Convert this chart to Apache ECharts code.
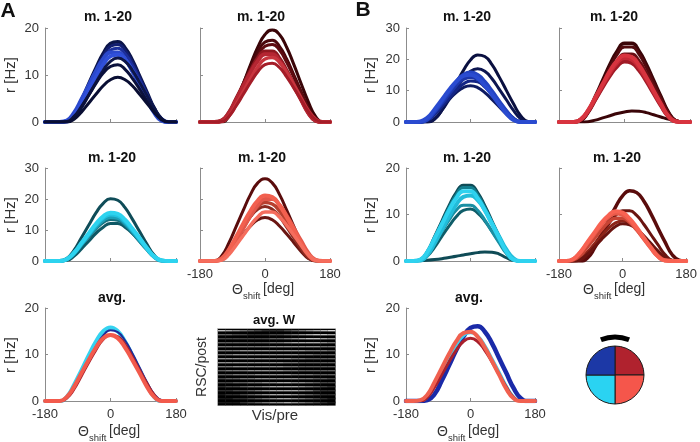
<!DOCTYPE html>
<html><head><meta charset="utf-8">
<script src="https://cdn.jsdelivr.net/npm/echarts@6/dist/echarts.min.js"></script>
<style>html,body{margin:0;padding:0;background:#fff}#c{width:700px;height:442px}</style>
</head><body><div id="c"></div>
<script>
// ---------------- DATA ----------------
const theta = [-180,-160,-140,-120,-100,-80,-60,-40,-20,0,20,40,60,80,100,120,140,160,180];
const xTicks = [-180, 0, 180];

// Panel A, top-left (blue), r [Hz]
const A1 = [
[0,0,0,0.2,1.6,4.6,8.1,11.5,14.6,16.7,17.1,15.8,13.2,9.8,6.4,3.0,0.7,0,0],
[0,0,0,0.2,1.6,4.5,7.8,11.1,14.1,16.1,16.5,15.3,12.7,9.5,6.1,2.9,0.7,0,0],
[0,0,0,0.2,1.5,4.3,7.4,10.6,13.4,15.3,15.7,14.5,12.1,9.0,5.8,2.8,0.6,0,0],
[0,0,0,0.3,2.0,4.8,7.8,10.8,13.4,14.8,14.8,13.4,10.8,7.8,4.8,2.0,0.3,0,0],
[0,0,0,0.1,1.4,3.9,6.8,9.6,12.2,14.0,14.3,13.2,11.0,8.2,5.3,2.5,0.6,0,0],
[0,0,0,0,0.8,3.0,5.7,8.4,11.0,12.9,13.6,12.9,11.0,8.4,5.7,3.0,0.8,0,0],
[0,0,0,0.1,1.2,3.3,5.7,8.2,10.4,11.8,12.2,11.2,9.3,7.0,4.5,2.1,0.5,0,0],
[0,0,0,0,0.6,2.1,4.0,5.9,7.7,9.0,9.5,9.0,7.7,5.9,4.0,2.1,0.6,0,0]
];
// Panel A, top-right (red)
const A2 = [
[0,0,0,0,1.2,4.3,8.2,12.2,15.9,18.6,19.6,18.6,15.9,12.2,8.2,4.3,1.2,0,0],
[0,0,0,0.2,1.7,4.7,8.2,11.7,14.9,17.0,17.4,16.1,13.4,10.0,6.5,3.1,0.7,0,0],
[0,0,0,0.2,1.6,4.5,7.8,11.1,14.1,16.1,16.5,15.3,12.7,9.5,6.1,2.9,0.7,0,0],
[0,0,0,0.3,2.0,4.9,7.9,10.9,13.5,15.0,15.0,13.5,10.9,7.9,4.9,2.0,0.3,0,0],
[0,0,0,0.3,1.9,4.7,7.6,10.5,13.0,14.4,14.4,13.0,10.5,7.6,4.7,1.9,0.3,0,0],
[0,0,0,0.1,1.3,3.7,6.5,9.2,11.7,13.4,13.7,12.7,10.6,7.9,5.1,2.4,0.6,0,0],
[0,0,0,0.1,1.2,3.4,5.9,8.4,10.7,12.2,12.5,11.6,9.6,7.2,4.7,2.2,0.5,0,0]
];
// Panel A, middle-left (cyan)
const A3 = [
[0,0,0,0.8,3.5,7.5,11.5,15.5,18.6,20.1,19.6,17.2,13.5,9.5,5.5,1.9,0.2,0,0],
[0,0,0,0.2,1.6,3.9,6.4,8.9,10.9,12.1,12.1,10.9,8.9,6.4,3.9,1.6,0.2,0,0],
[0,0,0,0.5,2.4,5.0,7.7,10.3,12.4,13.4,13.1,11.5,9.0,6.3,3.6,1.3,0.1,0,0],
[0,0,0,0.6,2.5,5.3,8.2,10.9,13.2,14.2,13.9,12.2,9.6,6.7,3.9,1.4,0.1,0,0],
[0,0,0,0.6,2.6,5.6,8.6,11.6,13.9,15.0,14.6,12.8,10.1,7.1,4.1,1.4,0.2,0,0],
[0,0,0,0.6,2.7,5.8,8.9,12.0,14.4,15.6,15.2,13.3,10.5,7.4,4.2,1.5,0.2,0,0]
];
// Panel A, middle-right (coral)
const A4 = [
[0,0,0,1.6,5.8,11.1,16.4,21.5,25.2,26.5,25.2,21.5,16.4,11.1,5.8,1.6,0,0,0],
[0,0,0,0.8,3.1,5.9,8.7,11.3,13.3,14.0,13.3,11.3,8.7,5.9,3.1,0.8,0,0,0],
[0,0,0,1.1,3.9,7.4,10.9,14.3,16.7,17.6,16.7,14.3,10.9,7.4,3.9,1.1,0,0,0],
[0,0,0,0.8,3.3,7.0,10.8,14.5,17.5,18.9,18.4,16.2,12.7,8.9,5.1,1.8,0.2,0,0],
[0,0,0,0.4,2.6,6.5,10.6,14.6,18.1,20.0,20.0,18.1,14.6,10.6,6.5,2.6,0.4,0,0],
[0,0,0,0.8,3.7,7.8,12.1,16.2,19.5,21.1,20.6,18.0,14.2,10.0,5.7,2.0,0.2,0,0],
[0,0,0,0.3,2.1,5.1,8.3,11.5,14.2,15.8,15.8,14.2,11.5,8.3,5.1,2.1,0.3,0,0]
];
// Panel A, average
const A5 = [
[0,0,0,0.9,3.5,6.6,9.8,12.8,15.0,15.8,15.0,12.8,9.8,6.6,3.5,0.9,0,0,0],
[0,0,0,0.6,2.7,5.7,8.7,11.7,14.1,15.2,14.8,13.0,10.3,7.2,4.1,1.5,0.2,0,0],
[0,0,0,0.6,2.5,5.3,8.2,10.9,13.2,14.2,13.9,12.2,9.6,6.7,3.9,1.4,0.1,0,0],
[0,0,0,0.9,3.1,6.0,8.8,11.5,13.5,14.2,13.5,11.5,8.8,6.0,3.1,0.9,0,0,0]
];
// Panel B, top-left (blue)
const B1 = [
[0,0,0,0,0.9,3.8,8.0,12.3,16.4,19.8,21.4,20.9,18.3,14.4,10.1,5.8,2.0,0.2,0],
[0,0,0,0,1.0,3.7,7.1,10.5,13.8,16.2,17.0,16.2,13.8,10.5,7.1,3.7,1.0,0,0],
[0,0,0,0.7,2.6,4.9,7.2,9.4,11.0,11.6,11.0,9.4,7.2,4.9,2.6,0.7,0,0,0],
[0,0,0,0.5,2.3,4.9,7.5,10.1,12.1,13.1,12.8,11.2,8.8,6.2,3.6,1.3,0.1,0,0],
[0,0,0,0.9,3.2,6.0,8.9,11.7,13.7,14.4,13.7,11.7,8.9,6.0,3.2,0.9,0,0,0],
[0,0,0,0.9,3.5,6.6,9.8,12.8,15.0,15.8,15.0,12.8,9.8,6.6,3.5,0.9,0,0,0],
[0,0,0.2,1.4,4.1,7.1,10.2,12.9,14.7,15.1,14.0,11.6,8.7,5.6,2.7,0.6,0,0,0]
];
// Panel B, top-right (red)
const B2 = [
[0,0,0,0.5,3.3,8.2,13.3,18.4,22.7,25.1,25.1,22.7,18.4,13.3,8.2,3.3,0.5,0,0],
[0,0,0,0.5,3.2,7.8,12.6,17.5,21.6,23.9,23.9,21.6,17.5,12.6,7.8,3.2,0.5,0,0],
[0,0,0,0.4,2.9,7.0,11.4,15.8,19.6,21.7,21.7,19.6,15.8,11.4,7.0,2.9,0.4,0,0],
[0,0,0,0,0.1,0.6,1.3,2.0,2.7,3.2,3.5,3.4,3.0,2.3,1.6,0.9,0.3,0,0],
[0,0,0,0.8,3.4,7.2,11.1,14.8,17.8,19.3,18.8,16.5,13.0,9.1,5.2,1.8,0.2,0,0],
[0,0,0,0.8,3.6,7.6,11.7,15.7,18.9,20.4,19.9,17.4,13.7,9.6,5.5,1.9,0.2,0,0],
[0,0,0,0.9,3.7,7.9,12.1,16.3,19.6,21.2,20.7,18.1,14.3,10.0,5.8,2.0,0.2,0,0]
];
// Panel B, middle-left (cyan)
const B3 = [
[0,0,0.3,2.1,5.3,8.6,11.9,14.7,16.3,16.3,14.7,11.9,8.6,5.3,2.1,0.3,0,0,0],
[0,0,0.3,2.1,5.1,8.3,11.5,14.2,15.8,15.8,14.2,11.5,8.3,5.1,2.1,0.3,0,0,0],
[0,0,0.05,0.15,0.3,0.5,0.75,1.0,1.3,1.55,1.8,1.95,1.9,1.5,0.7,0.1,0,0,0],
[0,0,0.1,1.1,3.0,5.3,7.5,9.5,10.9,11.2,10.3,8.6,6.4,4.1,2.0,0.4,0,0,0],
[0,0,0.2,1.6,3.9,6.3,8.8,10.9,12.0,12.0,10.9,8.8,6.3,3.9,1.6,0.2,0,0,0],
[0,0,0.1,1.3,3.8,6.7,9.5,12.1,13.8,14.1,13.1,10.9,8.1,5.3,2.5,0.6,0,0,0],
[0,0,0.3,2.0,4.9,7.9,10.9,13.5,15.0,15.0,13.5,10.9,7.9,4.9,2.0,0.3,0,0,0]
];
// Panel B, middle-right (coral)
const B4 = [
[0,0,0,0,0.6,2.7,5.6,8.7,11.6,14.0,15.1,14.7,12.9,10.2,7.1,4.1,1.4,0.2,0],
[0,0,0,0.2,1.4,3.5,5.7,7.9,9.8,10.8,10.8,9.8,7.9,5.7,3.5,1.4,0.2,0,0],
[0,0,0,0.5,1.9,3.6,5.3,7.0,8.2,8.6,8.2,7.0,5.3,3.6,1.9,0.5,0,0,0],
[0,0,0,0.3,1.4,3.0,4.6,6.1,7.4,8.0,7.8,6.8,5.4,3.8,2.2,0.8,0.1,0,0],
[0,0,0.2,1.2,3.0,4.8,6.7,8.3,9.2,9.2,8.3,6.7,4.8,3.0,1.2,0.2,0,0,0],
[0,0,0.4,1.8,3.8,5.8,7.8,9.4,10.2,9.9,8.7,6.8,4.8,2.8,1.0,0.1,0,0,0],
[0,0,0.4,1.9,4.0,6.1,8.2,9.8,10.7,10.4,9.1,7.2,5.0,2.9,1.0,0.1,0,0,0]
];
// Panel B, average
const B5 = [
[0,0,0,0.2,1.5,4.4,7.6,10.9,13.8,15.7,16.1,14.9,12.4,9.2,6.0,2.8,0.6,0,0],
[0,0,0,0.9,3.2,6.2,9.1,11.9,14.0,14.7,14.0,11.9,9.1,6.2,3.2,0.9,0,0,0],
[0,0,0,0.8,3.0,5.7,8.4,10.9,12.8,13.5,12.8,10.9,8.4,5.7,3.0,0.8,0,0,0],
[0,0,0.2,1.4,4.1,7.1,10.1,12.8,14.6,14.9,13.8,11.5,8.6,5.6,2.6,0.6,0,0,0]
];
// avg. W (rows = RSC/post, columns = Vis/pre), brightness 0-9 of each bright row
const W_rows = [
"8765432223456789","4433222334567887","3333333445678876","4444444556777765",
"5555555666666655","5556666666665554","5566666666655444","6666666666554444",
"6666666665544444","5566666665544444","4555666665544444","4455566666555444",
"3445566666655443","3344556677665433","2334556777765432","2233456777765322",
"1223456777654322","1122345677654321","1112345667654321"
];
const headQuadrants = [1,1,1,1];

// ---------------- STYLE ----------------
const FONT = '"Liberation Sans", Arial, Helvetica, sans-serif';
const AX = '#8c8c8c';
const panels = [
 {vals:A1, ymax:20, left:45,  top:28,  w:131, h:94, xl:false, yl:true,
  colors:['#0b1448','#121e70','#1c2f9c','#2b49cc','#3050da','#0d1648','#0b113c','#090e33'], widths:[3.5,3,3,4,4,3,3,3]},
 {vals:A2, ymax:20, left:200, top:28,  w:130, h:94, xl:false, yl:false,
  colors:['#3a0508','#4a070b','#5e0b10','#8e1820','#b52632','#c8353e','#a41d28'], widths:[3,3,3,4,4,3.5,3]},
 {vals:A3, ymax:30, left:45,  top:168, w:131, h:93, xl:false, yl:true,
  colors:['#0f4c58','#0f5865','#14707f','#1b9fb8','#22c2e0','#2dd3ef'], widths:[3,3,3,4,4,4]},
 {vals:A4, ymax:30, left:200, top:168, w:130, h:93, xl:true, yl:false,
  colors:['#5a0c0c','#6a1612','#8a2a20','#b8402f','#e2574a','#f2604f','#f56d5d'], widths:[3,3,3,3.5,4,4,3.5]},
 {vals:A5, ymax:20, left:45,  top:308, w:131, h:93, xl:true, yl:true,
  colors:['#35d3f0','#1c2a9a','#a8202c','#f25a4c'], widths:[4,2,2.5,4]},
 {vals:B1, ymax:30, left:406, top:28,  w:129, h:94, xl:false, yl:true,
  colors:['#0a1040','#0c1550','#0e1a60','#142585','#1c35a8','#2444c2','#2a4bd0'], widths:[3,3,3,3,4,4,4]},
 {vals:B2, ymax:30, left:559, top:28,  w:131, h:94, xl:false, yl:false,
  colors:['#3a0508','#520a0e','#6a0e14','#3a0508','#a01a26','#c42a36','#d8343f'], widths:[3.5,3,3,3,4,4,4]},
 {vals:B3, ymax:20, left:406, top:168, w:129, h:93, xl:false, yl:true,
  colors:['#0f4b56','#127e8e','#0f4b56','#0f5d69','#1a8fa3','#22bcd9','#2fd2ef'], widths:[3,3,3,3,3,4,4]},
 {vals:B4, ymax:20, left:559, top:168, w:131, h:93, xl:true, yl:false,
  colors:['#5a0c0c','#6a1410','#8c2418','#6a1410','#c84434','#e85a4a','#f86252'], widths:[3.5,3,3,3,3.5,4,4]},
 {vals:B5, ymax:20, left:406, top:308, w:129, h:93, xl:true, yl:true,
  colors:['#1a2aa8','#3fd0ee','#a8202c','#f0604f'], widths:[4.5,3,3,4]}
];

const grids = [], xAxes = [], yAxes = [], series = [];
panels.forEach((p, i) => {
  grids.push({left:p.left, top:p.top, width:p.w, height:p.h, containLabel:false});
  xAxes.push({gridIndex:i, type:'value', min:xTicks[0], max:xTicks[2], interval:180,
    axisLine:{show:true, onZero:false, lineStyle:{color:AX, width:1}},
    axisTick:{show:true, inside:true, length:3, lineStyle:{color:AX}},
    axisLabel:{show:p.xl, color:'#333', fontSize:13, margin:7, fontFamily:FONT},
    splitLine:{show:false}});
  yAxes.push({gridIndex:i, type:'value', min:0, max:p.ymax, interval:10,
    axisLine:{show:true, onZero:false, lineStyle:{color:AX, width:1}},
    axisTick:{show:true, inside:true, length:3, lineStyle:{color:AX}},
    axisLabel:{show:p.yl, color:'#333', fontSize:13, margin:6, fontFamily:FONT},
    splitLine:{show:false}});
  p.vals.forEach((vals, k) => {
    series.push({type:'line', xAxisIndex:i, yAxisIndex:i, silent:true,
      data: vals.map((v, j) => [theta[j], v]),
      symbol:'none', smooth:0.5,
      lineStyle:{color:p.colors[k], width:p.widths[k], cap:'round', join:'round'}});
  });
});

// W matrix: each cell = black cell + thin bright strip (custom series through the grid's scales)
const hg = grids.length;
grids.push({left:218, top:329, width:117, height:76, show:false});
const nCols = W_rows[0].length, nRows = W_rows.length;
xAxes.push({gridIndex:hg, type:'value', min:0, max:nCols, show:false});
yAxes.push({gridIndex:hg, type:'value', min:0, max:nRows, inverse:true, show:false});
const heatData = [];
W_rows.forEach((r, ri) => r.split('').forEach((ch, c) => heatData.push([c, ri, Number(ch)])));
series.push({type:'custom', xAxisIndex:hg, yAxisIndex:hg, data:heatData, silent:true, clip:false, z:5,
  renderItem: (params, api) => {
    const c = api.value(0), r = api.value(1), v = api.value(2);
    const q0 = api.coord([c, r]), q1 = api.coord([c + 1, r + 1]);
    const s0 = api.coord([c, r + 0.25]), s1 = api.coord([c + 1, r + 0.6]);
    const g = Math.round(Math.min(1, v / 9) * 215);
    const x = Math.min(q0[0], q1[0]), w = Math.abs(q1[0] - q0[0]) + 0.4;
    return {type:'group', children:[
      {type:'rect', shape:{x:x, y:Math.min(q0[1], q1[1]), width:w, height:Math.abs(q1[1] - q0[1]) + 0.4},
       style:{fill:'#000000'}},
      {type:'rect', shape:{x:x, y:Math.min(s0[1], s1[1]), width:w, height:Math.abs(s1[1] - s0[1])},
       style:{fill:'rgb(' + g + ',' + g + ',' + g + ')'}}
    ]};
  }});

// head diagram
series.push({type:'pie', center:[615, 375], radius:[0, 29], startAngle:90, clockwise:true, silent:true,
  label:{show:false}, labelLine:{show:false},
  data: headQuadrants.map((v, i) => ({value:v, itemStyle:{color:['#b0222e','#f5564b','#2ad3f2','#1c38a6'][i]}})),
  itemStyle:{borderColor:'#1a1a1a', borderWidth:1}});

// ---------------- TEXT ----------------
const T = (text, x, y, size, bold, opts) => Object.assign({type:'text', x, y, silent:true,
  style:{text, fill:'#111', font:(bold ? 'bold ' : '') + size + 'px ' + FONT, textAlign:'center', textVerticalAlign:'middle'}}, opts || {});
const graphics = [
  T('A', 8, 11, 21, true), T('B', 363, 10, 21, true),
  T('m. 1-20', 108, 17, 14, true), T('m. 1-20', 261, 17, 14, true),
  T('m. 1-20', 467, 17, 14, true), T('m. 1-20', 614, 17, 14, true),
  T('m. 1-20', 112, 158, 14, true), T('m. 1-20', 262, 158, 14, true),
  T('m. 1-20', 467, 158, 14, true), T('m. 1-20', 617, 158, 14, true),
  T('avg.', 112, 298, 14, true), T('avg.', 469, 298, 14, true),
  T('avg. W', 274, 320, 13, true)
];
[[11,75],[11,215],[11,355],[371,75],[371,215],[371,355]].forEach(([x,y]) =>
  graphics.push(T('r [Hz]', x, y, 15, false, {rotation:Math.PI/2, style:{text:'r [Hz]', fill:'#333', font:'15px '+FONT, textAlign:'center', textVerticalAlign:'middle'}})));
const thetaLabel = (x0, y0) => {
  graphics.push({type:'text', x:x0, y:y0, silent:true, style:{text:'\u0398', fill:'#333', font:'14px '+FONT, textAlign:'left', textVerticalAlign:'middle'}});
  graphics.push({type:'text', x:x0+11, y:y0+6, silent:true, style:{text:'shift', fill:'#333', font:'9.5px '+FONT, textAlign:'left', textVerticalAlign:'middle'}});
  graphics.push({type:'text', x:x0+31, y:y0-1, silent:true, style:{text:'[deg]', fill:'#333', font:'14px '+FONT, textAlign:'left', textVerticalAlign:'middle'}});
};
thetaLabel(232, 290); thetaLabel(583, 290); thetaLabel(78, 432); thetaLabel(437, 432);
graphics.push(T('RSC/post', 202, 367, 14, false, {rotation:Math.PI/2, style:{text:'RSC/post', fill:'#333', font:'14px '+FONT, textAlign:'center', textVerticalAlign:'middle'}}));
graphics.push({type:'text', x:275, y:416, silent:true, style:{text:'Vis/pre', fill:'#333', font:'15px '+FONT, textAlign:'center', textVerticalAlign:'middle'}});
graphics.push({type:'rect', silent:true, shape:{x:217.5, y:328.5, width:118, height:77}, style:{fill:null, stroke:'#b0b0b0', lineWidth:1}});
graphics.push({type:'arc', silent:true, shape:{cx:615, cy:375, r:38, startAngle:-Math.PI/2-0.38, endAngle:-Math.PI/2+0.38}, style:{stroke:'#000', lineWidth:5, fill:null}});

const chart = echarts.init(document.getElementById('c'), null, {renderer:'canvas'});
chart.setOption({
  animation:false, backgroundColor:'#fff',
  grid:grids, xAxis:xAxes, yAxis:yAxes, series:series, graphic:graphics
});
</script></body></html>
